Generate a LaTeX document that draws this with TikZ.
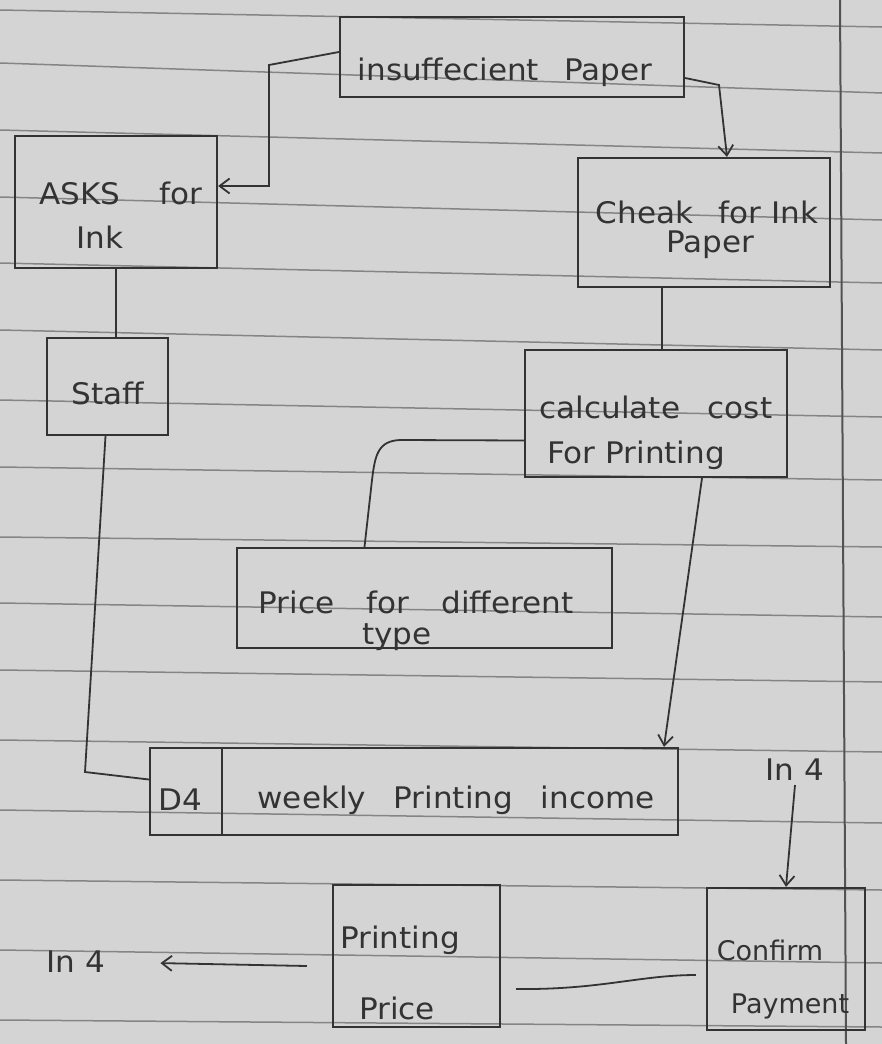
\documentclass[tikz,border=0pt]{standalone}
\usepackage{fontspec}
\usepackage{graphicx}
\newfontfamily\hand{DejaVu Sans}
\usetikzlibrary{arrows.meta}
\definecolor{paper}{HTML}{D4D4D4}
\definecolor{ruleline}{HTML}{858585}
\definecolor{ink}{HTML}{333333}
\newcommand\hw[1]{\scalebox{1.15}[1.1]{#1}}
\begin{document}
\begin{tikzpicture}[x=1pt,y=-1pt,
  box/.style={draw=ink, line width=2.2pt, inner sep=0pt},
  txt/.style={text=ink, font=\hand\fontsize{27}{30}\selectfont, inner sep=0pt, anchor=center},
  arr/.style={draw=ink, line width=1.8pt, -{Straight Barb[length=10pt,width=15pt,line width=1.8pt]}},
  con/.style={draw=ink, line width=1.8pt}]
\useasboundingbox (0,0) rectangle (882,1044);
% paper
\fill[paper] (0,0) rectangle (882,1044);
\foreach \yl/\yr in {10/27,63/93,130/153,197/220,263/283,330/350,400/417,467/480,537/547,603/617,670/682,740/752,810/823,880/890,950/963,1020/1027}
  \draw[ruleline, line width=1.5pt] (0,\yl) -- (882,\yr);
\draw[ink!85, line width=2pt] (840,0) -- (846,1044);
% boxes
\node[box, minimum width=344pt, minimum height=80pt] (ins) at (512,57) {};
\node[box, minimum width=202pt, minimum height=132pt] (asks) at (116,202) {};
\node[box, minimum width=252pt, minimum height=129pt] (cheak) at (704,222.5) {};
\node[box, minimum width=121pt, minimum height=97pt] (staff) at (107.5,386.5) {};
\node[box, minimum width=262pt, minimum height=127pt] (calc) at (656,413.5) {};
\node[box, minimum width=375pt, minimum height=100pt] (price) at (424.5,598) {};
\node[box, minimum width=528pt, minimum height=87pt] (weekly) at (414,791.5) {};
\node[box, minimum width=167pt, minimum height=142pt] (pp) at (416.5,956) {};
\node[box, minimum width=158pt, minimum height=142pt] (confirm) at (786,959) {};
\coordinate (dv) at (222,790);
\draw[box] (dv |- weekly.north) -- (dv |- weekly.south);
% texts
\node[txt] (t1) at (505,72) {\hw{insuffecient\hspace{22pt}Paper}};
\node[txt] (t2a) at (121,193) {\hw{ASKS\hspace{34pt}for}};
\node[txt] (t2b) at (100,237) {\hw{Ink}};
\node[txt] (t3a) at (707,212) {\hw{Cheak\hspace{22pt}for Ink}};
\node[txt] (t3b) at (710,245) {\hw{Paper}};
\node[txt] (t4) at (108,393) {\hw{Staff}};
\node[txt] (t5a) at (656,407) {\hw{calculate\hspace{24pt}cost}};
\node[txt] (t5b) at (636,455) {\hw{For Printing}};
\node[txt] (t6a) at (416,602) {\hw{Price\hspace{28pt}for\hspace{28pt}different}};
\node[txt] (t6b) at (397,637) {\hw{type}};
\node[txt] (t7a) at (180,800) {\hw{D4}};
\node[txt] (t7b) at (456,800) {\hw{weekly\hspace{24pt}Printing\hspace{24pt}income}};
\node[txt] (t8a) at (400,940) {\hw{Printing}};
\node[txt] (t8b) at (397,1008) {\hw{Price}};
\node[txt] (t9a) at (770,950) {Confirm};
\node[txt] (t9b) at (790,1006) {Payment};
\node[txt] (in1) at (795,770) {\hw{In 4}};
\node[txt] (in2) at (76,962) {\hw{In 4}};
% connectors
\draw[arr] ([yshift=5pt]ins.west) -- (269,65) -- (269,186) -- ([yshift=16pt]asks.east);
\draw[arr] ([yshift=-21pt]ins.east) -- (719,85) -- ([xshift=23pt]cheak.north);
\draw[con] (asks.south) -- (asks.south |- staff.north);
\coordinate (cd) at (662,300);
\draw[con] (cd |- cheak.south) -- (cd |- calc.north);
\draw[con] ([yshift=-27pt]calc.west) -- (400,440) .. controls (378,441) and (375,455) .. (372,480) -- ([xshift=-60pt]price.north);
\draw[arr] ([xshift=46pt]calc.south) -- ([xshift=250pt]weekly.north);
\draw[con] ([xshift=-2pt]staff.south) -- (85,772) -- ([yshift=12pt]weekly.west);
\draw[arr] ([yshift=-4pt]in1.south) -- (confirm.north);
\draw[arr, shorten >=55pt] ([xshift=-25pt,yshift=-10pt]pp.west) -- (in2.east);
\draw[con] ([xshift=15pt,yshift=-33pt]pp.east) .. controls (600,990) and (640,975) .. ([xshift=-10pt,yshift=-16pt]confirm.west);
\end{tikzpicture}
\end{document}
